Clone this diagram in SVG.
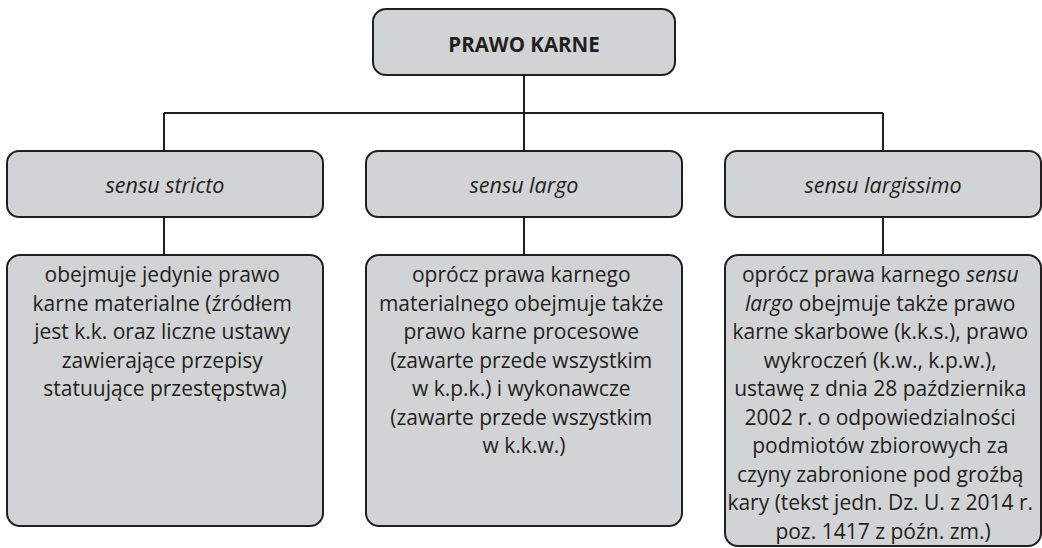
<svg xmlns="http://www.w3.org/2000/svg" width="1042" height="548" viewBox="0 0 1042 548">
<style>
.box{fill:#d1d3d4;stroke:#231f20;stroke-width:2}
.con{fill:none;stroke:#231f20;stroke-width:2}
text{font-family:"Open Sans","Noto Sans",sans-serif;fill:#231f20;text-anchor:middle}
.title{font-size:20.5px;font-weight:bold}
.head{font-size:21.5px;font-style:italic}
.body{font-size:21px}
.it{font-style:italic}
</style>
<rect width="1042" height="548" fill="#ffffff"/>
<g id="connectors">
<path class="con" d="M524 75V113M164 113H883M164 113V151M524 113V151M883 113V151M164 217V255M524 217V255M883 217V255"/>
</g>
<g id="root">
<rect class="box" x="373" y="9" width="302" height="66" rx="13"/>
<text class="title" x="524" y="52">PRAWO KARNE</text>
</g>
<g id="stricto">
<rect class="box" x="7" y="151" width="316" height="66" rx="12"/>
<text class="head" x="165" y="193">sensu stricto</text>
</g>
<g id="largo">
<rect class="box" x="366" y="151" width="316" height="66" rx="12"/>
<text class="head" x="524" y="193">sensu largo</text>
</g>
<g id="largissimo">
<rect class="box" x="725" y="151" width="316" height="66" rx="12"/>
<text class="head" x="883" y="193">sensu largissimo</text>
</g>
<g id="stricto-desc">
<rect class="box" x="7" y="255" width="316" height="271" rx="13"/>
<text class="body">
<tspan x="165" y="282">obejmuje jedynie prawo</tspan>
<tspan x="165" y="310.5">karne materialne (źródłem</tspan>
<tspan x="165" y="339">jest k.k. oraz liczne ustawy</tspan>
<tspan x="165" y="367.5">zawierające przepisy</tspan>
<tspan x="165" y="396">statuujące przestępstwa)</tspan>
</text>
</g>
<g id="largo-desc">
<rect class="box" x="366" y="255" width="316" height="271" rx="13"/>
<text class="body">
<tspan x="524" y="282">oprócz prawa karnego</tspan>
<tspan x="524" y="310.5">materialnego obejmuje także</tspan>
<tspan x="524" y="339">prawo karne procesowe</tspan>
<tspan x="524" y="367.5">(zawarte przede wszystkim</tspan>
<tspan x="524" y="396">w k.p.k.) i wykonawcze</tspan>
<tspan x="524" y="424.5">(zawarte przede wszystkim</tspan>
<tspan x="524" y="453">w k.k.w.)</tspan>
</text>
</g>
<g id="largissimo-desc">
<rect class="box" x="725" y="255" width="316" height="291" rx="13"/>
<text class="body">
<tspan x="883" y="282">oprócz prawa karnego <tspan class="it">sensu</tspan></tspan>
<tspan x="883" y="310.5"><tspan class="it">largo</tspan> obejmuje także prawo</tspan>
<tspan x="883" y="339">karne skarbowe (k.k.s.), prawo</tspan>
<tspan x="883" y="367.5">wykroczeń (k.w., k.p.w.),</tspan>
<tspan x="883" y="396">ustawę z dnia 28 października</tspan>
<tspan x="883" y="424.5">2002 r. o odpowiedzialności</tspan>
<tspan x="883" y="453">podmiotów zbiorowych za</tspan>
<tspan x="883" y="481.5">czyny zabronione pod groźbą</tspan>
<tspan x="883" y="510">kary (tekst jedn. Dz. U. z 2014 r.</tspan>
<tspan x="883" y="538.5">poz. 1417 z późn. zm.)</tspan>
</text>
</g>
</svg>
